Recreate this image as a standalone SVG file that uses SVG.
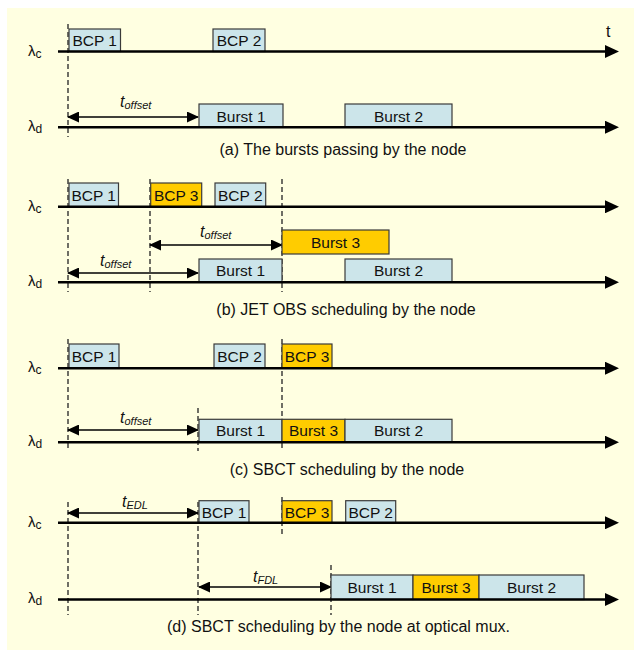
<svg xmlns="http://www.w3.org/2000/svg" width="634" height="650" viewBox="0 0 634 650">
<style>
text{font-family:"Liberation Sans",Arial,sans-serif;fill:#111}
.lbl{font-size:15.5px;text-anchor:middle}
.cap{font-size:16px;text-anchor:middle}
.it{font-style:italic;font-size:16px}
.sub{font-size:11px}
.lam{font-size:15px}
.b{fill:#CCE5EA;stroke:#3a3a3a;stroke-width:1.2}
.o{fill:#FFCC00;stroke:#3a3a3a;stroke-width:1.2}
.axis{stroke:#000;stroke-width:2.4;fill:none;marker-end:url(#ah)}
.dim{stroke:#000;stroke-width:1.4;fill:none;marker-start:url(#dh);marker-end:url(#dh)}
.dash{stroke:#222;stroke-width:1.3;stroke-dasharray:5,3;fill:none}
</style>
<defs>
<marker id="ah" viewBox="0 0 14 13" refX="2" refY="6.5" markerWidth="14" markerHeight="13" markerUnits="userSpaceOnUse" orient="auto"><path d="M0,0L14,6.5L0,13z" fill="#000"/></marker>
<marker id="dh" viewBox="0 0 12 11" refX="11" refY="5.5" markerWidth="12" markerHeight="11" markerUnits="userSpaceOnUse" orient="auto-start-reverse"><path d="M0,0L12,5.5L0,11z" fill="#000"/></marker>
</defs>
<rect x="7" y="8" width="627" height="642" fill="#FFFFE1"/>

<g id="connectors">
<line class="dash" x1="68" y1="24" x2="68" y2="137"/>
<line class="dash" x1="68" y1="179" x2="68" y2="292"/>
<line class="dash" x1="150" y1="179" x2="150" y2="292"/>
<line class="dash" x1="282" y1="179" x2="282" y2="292"/>
<line class="dash" x1="68" y1="339" x2="68" y2="451"/>
<line class="dash" x1="282" y1="339" x2="282" y2="451"/>
<line class="dash" x1="198" y1="408" x2="198" y2="451"/>
<line class="dash" x1="68" y1="502" x2="68" y2="615"/>
<line class="dash" x1="198" y1="502" x2="198" y2="615"/>
<line class="dash" x1="282" y1="497" x2="282" y2="535"/>
<line class="dash" x1="331" y1="565" x2="331" y2="615"/>
<line class="dim" x1="68" y1="117" x2="198" y2="117"/>
<line class="dim" x1="150" y1="245" x2="282" y2="245"/>
<line class="dim" x1="68" y1="273" x2="198" y2="273"/>
<line class="dim" x1="68" y1="430" x2="198" y2="430"/>
<line class="dim" x1="68" y1="513" x2="198" y2="513"/>
<line class="dim" x1="199" y1="587" x2="331" y2="587"/>
</g>

<g id="bcp1-a"><rect class="b" x="69" y="29" width="51.5" height="22.5"/><text class="lbl" x="94.7" y="45.5">BCP 1</text></g>
<g id="bcp2-a"><rect class="b" x="213" y="29" width="52" height="22.5"/><text class="lbl" x="239" y="45.5">BCP 2</text></g>
<g id="burst1-a"><rect class="b" x="199" y="104" width="84" height="23"/><text class="lbl" x="241" y="121.5">Burst 1</text></g>
<g id="burst2-a"><rect class="b" x="345" y="104" width="107" height="23"/><text class="lbl" x="398.5" y="121.5">Burst 2</text></g>

<g id="bcp1-b"><rect class="b" x="69" y="183" width="49.5" height="23.8"/><text class="lbl" x="93.7" y="200.5">BCP 1</text></g>
<g id="bcp3-b"><rect class="o" x="150.7" y="183" width="51" height="23.8"/><text class="lbl" x="176.2" y="200.5">BCP 3</text></g>
<g id="bcp2-b"><rect class="b" x="215" y="183" width="50.7" height="23.8"/><text class="lbl" x="240.3" y="200.5">BCP 2</text></g>
<g id="burst3-b"><rect class="o" x="282" y="230" width="107" height="24"/><text class="lbl" x="335.5" y="247.5">Burst 3</text></g>
<g id="burst1-b"><rect class="b" x="199" y="259" width="83" height="23.2"/><text class="lbl" x="240.5" y="276">Burst 1</text></g>
<g id="burst2-b"><rect class="b" x="345" y="259" width="107" height="23.2"/><text class="lbl" x="398.5" y="276">Burst 2</text></g>

<g id="bcp1-c"><rect class="b" x="69" y="344" width="50" height="24.2"/><text class="lbl" x="94" y="361.5">BCP 1</text></g>
<g id="bcp2-c"><rect class="b" x="214" y="344" width="51" height="24.2"/><text class="lbl" x="239.5" y="361.5">BCP 2</text></g>
<g id="bcp3-c"><rect class="o" x="282" y="344" width="50" height="24.2"/><text class="lbl" x="307" y="361.5">BCP 3</text></g>
<g id="burst1-c"><rect class="b" x="199" y="419.3" width="83" height="22.9"/><text class="lbl" x="240.5" y="436">Burst 1</text></g>
<g id="burst3-c"><rect class="o" x="282" y="419.3" width="63" height="22.9"/><text class="lbl" x="313.5" y="436">Burst 3</text></g>
<g id="burst2-c"><rect class="b" x="345" y="419.3" width="107" height="22.9"/><text class="lbl" x="398.5" y="436">Burst 2</text></g>

<g id="bcp1-d"><rect class="b" x="199" y="500.7" width="50" height="22.1"/><text class="lbl" x="224" y="517.5">BCP 1</text></g>
<g id="bcp3-d"><rect class="o" x="282" y="500.7" width="50" height="22.1"/><text class="lbl" x="307" y="517.5">BCP 3</text></g>
<g id="bcp2-d"><rect class="b" x="345.7" y="500.7" width="50" height="22.1"/><text class="lbl" x="370.7" y="517.5">BCP 2</text></g>
<g id="burst1-d"><rect class="b" x="331" y="575" width="82" height="24.5"/><text class="lbl" x="372" y="593">Burst 1</text></g>
<g id="burst3-d"><rect class="o" x="413" y="575" width="66" height="24.5"/><text class="lbl" x="446" y="593">Burst 3</text></g>
<g id="burst2-d"><rect class="b" x="479" y="575" width="105" height="24.5"/><text class="lbl" x="531.5" y="593">Burst 2</text></g>

<g id="axes">
<line class="axis" x1="58" y1="51.5" x2="607" y2="51.5"/>
<line class="axis" x1="58" y1="127.2" x2="607" y2="127.2"/>
<line class="axis" x1="58" y1="206.8" x2="607" y2="206.8"/>
<line class="axis" x1="58" y1="282.2" x2="607" y2="282.2"/>
<line class="axis" x1="58" y1="368.2" x2="607" y2="368.2"/>
<line class="axis" x1="58" y1="442.2" x2="607" y2="442.2"/>
<line class="axis" x1="58" y1="522.8" x2="607" y2="522.8"/>
<line class="axis" x1="58" y1="599.5" x2="607" y2="599.5"/>
</g>

<g id="labels">
<text x="606" y="37" style="font-size:16px">t</text>
<text class="lam" x="28" y="55.5">λ<tspan font-size="12" dy="2">c</tspan></text>
<text class="lam" x="28" y="131">λ<tspan font-size="12" dy="2">d</tspan></text>
<text class="lam" x="28" y="210.5">λ<tspan font-size="12" dy="2">c</tspan></text>
<text class="lam" x="28" y="286">λ<tspan font-size="12" dy="2">d</tspan></text>
<text class="lam" x="28" y="372">λ<tspan font-size="12" dy="2">c</tspan></text>
<text class="lam" x="28" y="446">λ<tspan font-size="12" dy="2">d</tspan></text>
<text class="lam" x="28" y="526.5">λ<tspan font-size="12" dy="2">c</tspan></text>
<text class="lam" x="28" y="603">λ<tspan font-size="12" dy="2">d</tspan></text>

<text class="it" x="120" y="107">t<tspan class="sub" dy="2">offset</tspan></text>
<text class="it" x="200" y="237">t<tspan class="sub" dy="2">offset</tspan></text>
<text class="it" x="100" y="266">t<tspan class="sub" dy="2">offset</tspan></text>
<text class="it" x="120" y="423">t<tspan class="sub" dy="2">offset</tspan></text>
<text class="it" x="122" y="507">t<tspan class="sub" dy="2">EDL</tspan></text>
<text class="it" x="253" y="582">t<tspan class="sub" dy="2">FDL</tspan></text>

<text class="cap" x="343" y="155">(a) The bursts passing by the node</text>
<text class="cap" x="346" y="315">(b) JET OBS scheduling by the node</text>
<text class="cap" x="347" y="475">(c) SBCT scheduling by the node</text>
<text class="cap" x="338.5" y="631.5">(d) SBCT scheduling by the node at optical mux.</text>
</g>
</svg>
